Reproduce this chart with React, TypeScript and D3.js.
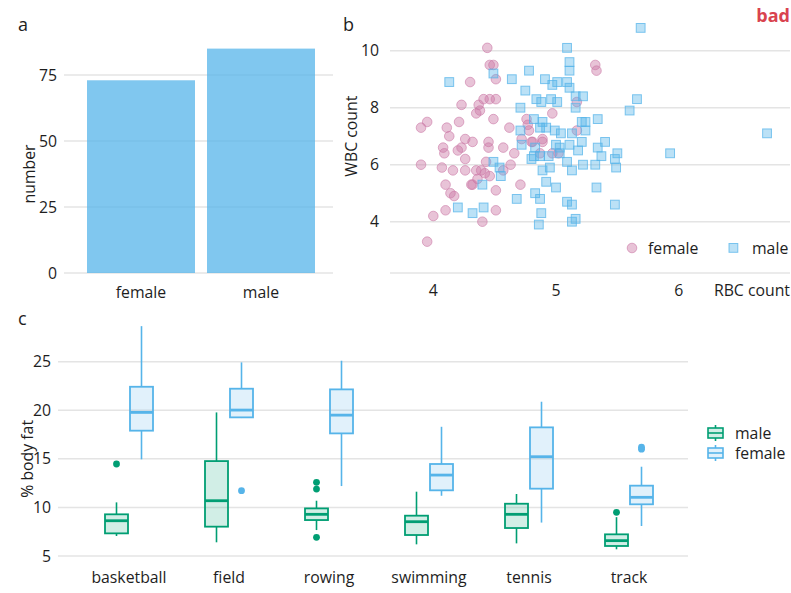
import React from "react";
import * as d3 from "d3";

// panel a: counts
const sexes = ["female", "male"];
const counts = [73, 85];

// panel b: RBC / WBC
const femaleRBC = [4.44, 4.46, 4.49, 4.51, 4.30, 5.32, 5.33, 4.41, 4.46, 4.51, 4.23, 4.37, 4.38, 4.35, 4.97, 5.17,
  4.49, 4.21, 3.95, 3.90, 4.11, 4.62, 4.76, 4.77, 4.13, 4.26, 4.32, 4.45, 4.45, 4.08, 4.23, 4.20, 4.09,
  4.57, 4.66, 4.26, 4.72, 4.78, 4.80, 4.89, 5.17, 3.90, 4.07, 4.16, 4.26, 4.35, 4.39, 4.42, 4.46, 4.36,
  4.43, 4.57, 4.63, 4.10, 4.31, 4.32, 4.71, 4.14, 4.17, 4.51, 4.10, 4.51, 4.00, 4.40, 3.95, 4.87, 4.97,
  5.02, 4.81, 4.89];
const femaleWBC = [10.1, 9.5, 9.5, 9.0, 8.9, 9.5, 9.3, 8.3, 8.3, 8.3, 8.1, 8.1, 7.9, 7.8, 7.8, 8.2,
  7.6, 7.5, 7.5, 7.3, 7.3, 7.3, 7.6, 7.4, 7.0, 6.9, 6.8, 6.8, 6.6, 6.6, 6.6, 6.5, 6.4,
  6.6, 6.4, 6.2, 6.9, 7.2, 6.8, 6.9, 7.2, 6.0, 5.9, 5.8, 5.8, 5.8, 5.8, 5.7, 5.6, 5.5,
  6.1, 5.8, 6.0, 5.3, 5.3, 5.3, 5.3, 5.0, 4.9, 5.1, 4.4, 4.4, 4.2, 4.0, 3.3, 6.4, 6.4,
  6.4, 6.8, 6.8];
const maleRBC = [5.69, 5.09, 5.11, 5.11, 4.13, 4.49, 4.64, 4.78, 4.91, 4.97, 5.01, 5.09, 5.11, 4.75,
  5.16, 5.22, 4.84, 4.88, 4.96, 5.01, 5.16, 4.71, 5.66, 5.60, 5.34, 4.82, 4.89, 5.21, 5.24, 4.71, 4.87,
  4.92, 4.99, 5.04, 5.13, 5.24, 6.72, 4.72, 4.83, 5.00, 5.03, 5.11, 5.21, 5.40, 5.34, 5.18, 4.82, 4.87,
  5.03, 5.37, 5.50, 5.48, 5.93, 4.80, 4.94, 5.09, 5.22, 5.32, 5.49, 4.49, 4.54, 4.55, 4.89, 4.95, 5.13,
  4.40, 4.92, 5.00, 5.33, 4.83, 4.87, 4.68, 5.09, 5.13, 5.48, 4.20, 4.32, 4.41, 4.88, 5.16, 5.13, 4.86];
const maleWBC = [10.8, 10.1, 9.6, 9.3, 8.9, 9.2, 9.0, 9.3, 9.0, 8.8, 8.9, 8.9, 8.7, 8.6,
  8.4, 8.4, 8.3, 8.2, 8.3, 8.2, 8.0, 8.0, 8.3, 7.9, 7.6, 7.6, 7.5, 7.5, 7.5, 7.2, 7.3,
  7.3, 7.2, 7.1, 7.1, 7.2, 7.1, 6.7, 6.6, 6.7, 6.6, 6.7, 6.8, 6.8, 6.6, 6.5, 6.3, 6.3,
  6.4, 6.3, 6.4, 6.2, 6.4, 6.2, 6.3, 6.1, 6.0, 6.0, 5.9, 6.1, 5.9, 5.6, 5.8, 5.9, 5.8,
  5.3, 5.4, 5.2, 5.2, 5.0, 4.8, 4.8, 4.7, 4.6, 4.6, 4.5, 4.3, 4.5, 4.3, 4.1, 4.0, 3.9];

// panel c: % body fat box stats
const sports = ["basketball", "field", "rowing", "swimming", "tennis", "track"];
const maleLow = [7.06, 6.41, 7.67, 6.2, 6.3, 5.69];
const maleQ1 = [7.33, 8.02, 8.7, 7.16, 7.88, 6.03];
const maleMed = [8.63, 10.69, 9.29, 8.53, 9.29, 6.58];
const maleQ3 = [9.29, 14.77, 9.9, 9.15, 10.38, 7.23];
const maleHigh = [10.52, 19.78, 10.69, 11.62, 11.38, 9.0];
const maleOut = [[14.47], [], [12.58, 11.89, 6.92], [], [], [9.5]];
const femaleLow = [14.95, 19.2, 12.2, 11.2, 8.44, 8.09];
const femaleQ1 = [17.9, 19.27, 17.62, 11.76, 11.93, 10.32];
const femaleMed = [19.78, 20.02, 19.5, 13.33, 15.22, 11.04];
const femaleQ3 = [22.42, 22.22, 22.15, 14.47, 18.24, 12.24];
const femaleHigh = [28.66, 24.93, 25.1, 18.3, 20.88, 14.19];
const femaleOut = [[], [11.72], [], [], [], [16.0, 16.2]];

const FONT = "'Open Sans', sans-serif";
const FS = 15.8;
const TXT = "#1e1e1e";
const GRID = "#e4e4e4";
const BLUE = "#56B4E9";
const PINK = "#CC79A7";
const GREEN = "#009E73";

const boxSeries = [
  { name: "male", color: GREEN, low: maleLow, q1: maleQ1, med: maleMed, q3: maleQ3, high: maleHigh, out: maleOut, off: -12.5 },
  { name: "female", color: BLUE, low: femaleLow, q1: femaleQ1, med: femaleMed, q3: femaleQ3, high: femaleHigh, out: femaleOut, off: 12.5 },
];

export default function App() {
  // ---- panel a
  const xa = d3.scaleBand().domain(sexes).range([81, 321]).paddingInner(0.1).paddingOuter(0.05);
  const ya = d3.scaleLinear().domain([0, 75]).range([273, 75]);
  const aTicks = [0, 25, 50, 75];

  // ---- panel b
  const xb = d3.scaleLinear().domain([4, 6]).range([433.3, 678.7]);
  const yb = d3.scaleLinear().domain([4, 10]).range([221.7, 50.7]);
  const bTicks = [4, 6, 8, 10];

  // ---- panel c
  const xc = d3.scaleBand().domain(sports).range([79, 679]);
  const yc = d3.scaleLinear().domain([5, 25]).range([556, 361.7]);
  const cTicks = [5, 10, 15, 20, 25];
  const bw = 23;

  return (
    <svg width={791} height={593} style={{ position: "absolute", left: 0, top: 0, fontFamily: FONT }}>
      <rect width={791} height={593} fill="#fff" />

      {/* panel a */}
      <text x={18} y={31} fontSize={18} fill={TXT}>a</text>
      {aTicks.map((t) => (
        <g key={"ag" + t}>
          <line x1={64} x2={333} y1={ya(t)} y2={ya(t)} stroke={GRID} strokeWidth={1.5} />
          <text x={57} y={ya(t) + 5.5} textAnchor="end" fontSize={FS} fill={TXT}>{t}</text>
        </g>
      ))}
      {sexes.map((s, i) => (
        <g key={"ab" + s}>
          <rect x={xa(s)} width={xa.bandwidth()} y={ya(counts[i])} height={ya(0) - ya(counts[i])} fill={BLUE} fillOpacity={0.75} />
          <text x={xa(s)! + xa.bandwidth() / 2} y={298} textAnchor="middle" fontSize={FS} fill={TXT}>{s}</text>
        </g>
      ))}
      <text transform={`translate(35,${ya(37.5)}) rotate(-90)`} textAnchor="middle" fontSize={FS} fill={TXT}>number</text>

      {/* panel b */}
      <text x={343} y={31} fontSize={18} fill={TXT}>b</text>
      <text x={790} y={22} textAnchor="end" fontSize={18} fontWeight="bold" fill="#d9434f">bad</text>
      {bTicks.map((t) => (
        <g key={"bg" + t}>
          <line x1={390} x2={790} y1={yb(t)} y2={yb(t)} stroke={GRID} strokeWidth={1.5} />
          <text x={379} y={yb(t) + 5.5} textAnchor="end" fontSize={FS} fill={TXT}>{t}</text>
        </g>
      ))}
      <line x1={390} x2={790} y1={273} y2={273} stroke={GRID} strokeWidth={1.5} />
      {[4, 5, 6].map((t) => (
        <text key={"bx" + t} x={xb(t)} y={296} textAnchor="middle" fontSize={FS} fill={TXT}>{t}</text>
      ))}
      <text x={790} y={296} textAnchor="end" fontSize={FS} fill={TXT}>RBC count</text>
      <text transform={`translate(357,${yb(7)}) rotate(-90)`} textAnchor="middle" fontSize={FS} fill={TXT}>WBC count</text>
      {femaleRBC.map((v, i) => (
        <circle key={"fp" + i} cx={xb(v)} cy={yb(femaleWBC[i])} r={4.8} fill={PINK} fillOpacity={0.45} stroke={PINK} strokeOpacity={0.6} strokeWidth={1} />
      ))}
      {maleRBC.map((v, i) => (
        <rect key={"mp" + i} x={xb(v) - 4.4} y={yb(maleWBC[i]) - 4.4} width={8.8} height={8.8} fill={BLUE} fillOpacity={0.4} stroke={BLUE} strokeOpacity={0.75} strokeWidth={1} />
      ))}
      <circle cx={632} cy={248} r={4.8} fill={PINK} fillOpacity={0.45} stroke={PINK} strokeOpacity={0.6} />
      <text x={648} y={254} fontSize={FS} fill={TXT}>female</text>
      <rect x={729} y={243.5} width={8.8} height={8.8} fill={BLUE} fillOpacity={0.4} stroke={BLUE} strokeOpacity={0.75} />
      <text x={752} y={254} fontSize={FS} fill={TXT}>male</text>

      {/* panel c */}
      <text x={18} y={325} fontSize={18} fill={TXT}>c</text>
      {cTicks.map((t) => (
        <g key={"cg" + t}>
          <line x1={58} x2={688} y1={yc(t)} y2={yc(t)} stroke={GRID} strokeWidth={1.5} />
          <text x={51} y={yc(t) + 5.5} textAnchor="end" fontSize={FS} fill={TXT}>{t}</text>
        </g>
      ))}
      <text transform={`translate(33,${yc(15)}) rotate(-90)`} textAnchor="middle" fontSize={FS} fill={TXT}>% body fat</text>
      {sports.map((s) => (
        <text key={"cl" + s} x={xc(s)! + xc.bandwidth() / 2} y={583} textAnchor="middle" fontSize={FS} fill={TXT}>{s}</text>
      ))}
      {boxSeries.map((ser) =>
        sports.map((s, i) => {
          const cx = xc(s)! + xc.bandwidth() / 2 + ser.off;
          return (
            <g key={ser.name + s}>
              <line x1={cx} x2={cx} y1={yc(ser.high[i])} y2={yc(ser.q3[i])} stroke={ser.color} strokeWidth={1.6} />
              <line x1={cx} x2={cx} y1={yc(ser.q1[i])} y2={yc(ser.low[i])} stroke={ser.color} strokeWidth={1.6} />
              <rect x={cx - bw / 2} width={bw} y={yc(ser.q3[i])} height={yc(ser.q1[i]) - yc(ser.q3[i])}
                fill={ser.color} fillOpacity={0.18} stroke={ser.color} strokeWidth={1.8} />
              <line x1={cx - bw / 2} x2={cx + bw / 2} y1={yc(ser.med[i])} y2={yc(ser.med[i])} stroke={ser.color} strokeWidth={2.8} />
              {ser.out[i].map((o, j) => (
                <circle key={j} cx={cx} cy={yc(o)} r={3.4} fill={ser.color} />
              ))}
            </g>
          );
        })
      )}
      {boxSeries.map((ser, k) => {
        const ly = 433 + k * 20;
        return (
          <g key={"cleg" + ser.name}>
            <line x1={715.5} x2={715.5} y1={ly - 8} y2={ly + 8} stroke={ser.color} strokeWidth={1.6} />
            <rect x={708} y={ly - 5} width={15} height={10} fill="#fff" />
            <rect x={708} y={ly - 5} width={15} height={10} fill={ser.color} fillOpacity={0.18} stroke={ser.color} strokeWidth={1.6} />
            <line x1={708} x2={723} y1={ly} y2={ly} stroke={ser.color} strokeWidth={1.6} />
            <text x={735} y={ly + 5.5} fontSize={FS} fill={TXT}>{ser.name}</text>
          </g>
        );
      })}
    </svg>
  );
}
